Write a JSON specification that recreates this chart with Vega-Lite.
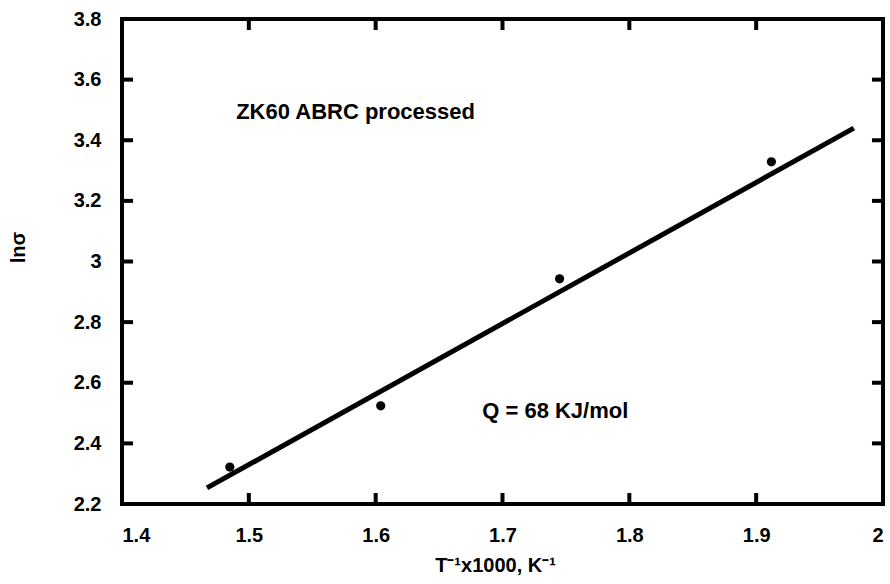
{
  "$schema": "https://vega.github.io/schema/vega-lite/v6.json",
  "width": 761,
  "height": 485,
  "autosize": "none",
  "padding": {"left": 122, "top": 19, "right": 7, "bottom": 80},
  "background": "white",
  "config": {
    "view": {"stroke": "black", "strokeWidth": 4, "fill": null},
    "font": "Liberation Sans"
  },
  "datasets": {
    "pts": [
      {"x": 1.485, "y": 2.322},
      {"x": 1.604, "y": 2.524},
      {"x": 1.745, "y": 2.943},
      {"x": 1.912, "y": 3.329}
    ],
    "fit": [
      {"x": 1.467, "y": 2.253},
      {"x": 1.977, "y": 3.44}
    ],
    "notes": [
      {"x": 1.49, "y": 3.492, "text": "ZK60 ABRC processed"},
      {"x": 1.684, "y": 2.506, "text": "Q = 68 KJ/mol"}
    ],
    "xticks": [{"v": 1.5}, {"v": 1.6}, {"v": 1.7}, {"v": 1.8}, {"v": 1.9}],
    "yticks": [{"v": 2.4}, {"v": 2.6}, {"v": 2.8}, {"v": 3.0}, {"v": 3.2}, {"v": 3.4}, {"v": 3.6}]
  },
  "layer": [
    {
      "data": {"name": "fit"},
      "mark": {"type": "line", "color": "black", "strokeWidth": 5, "strokeCap": "butt"},
      "encoding": {
        "x": {
          "field": "x", "type": "quantitative",
          "scale": {"domain": [1.4, 2.0], "nice": false, "zero": false},
          "axis": {
            "orient": "bottom",
            "grid": false,
            "domain": false,
            "ticks": false,
            "values": [1.4, 1.5, 1.6, 1.7, 1.8, 1.9, 2.0],
            "labelExpr": "format(datum.value, '~g')",
            "labelFont": "Liberation Sans", "labelFontWeight": "bold", "labelFontSize": 20, "labelColor": "black",
            "labelPadding": 21,
            "title": "T⁻¹x1000, K⁻¹",
            "titleFont": "Liberation Sans", "titleFontWeight": "bold", "titleFontSize": 20, "titleColor": "black",
            "titleX": 373,
            "titleY": 61,
            "titleBaseline": "middle"
          }
        },
        "y": {
          "field": "y", "type": "quantitative",
          "scale": {"domain": [2.2, 3.8], "nice": false, "zero": false},
          "axis": {
            "orient": "left",
            "grid": false,
            "domain": false,
            "ticks": false,
            "values": [2.2, 2.4, 2.6, 2.8, 3.0, 3.2, 3.4, 3.6, 3.8],
            "labelExpr": "format(datum.value, '~g')",
            "labelFont": "Liberation Sans", "labelFontWeight": "bold", "labelFontSize": 20, "labelColor": "black",
            "labelPadding": 21,
            "title": "lnσ",
            "titleFont": "Liberation Sans", "titleFontWeight": "bold", "titleFontSize": 20, "titleColor": "black",
            "titleX": -104,
            "titleY": 228,
            "titleAngle": -90,
            "titleBaseline": "middle"
          }
        }
      }
    },
    {
      "data": {"name": "pts"},
      "mark": {"type": "circle", "color": "black", "size": 85, "opacity": 1},
      "encoding": {
        "x": {"field": "x", "type": "quantitative"},
        "y": {"field": "y", "type": "quantitative"}
      }
    },
    {
      "data": {"name": "notes"},
      "mark": {"type": "text", "align": "left", "baseline": "middle", "font": "Liberation Sans", "fontWeight": "bold", "fontSize": 22, "color": "black"},
      "encoding": {
        "x": {"field": "x", "type": "quantitative"},
        "y": {"field": "y", "type": "quantitative"},
        "text": {"field": "text"}
      }
    },
    {
      "data": {"name": "xticks"},
      "mark": {"type": "rule", "color": "black", "strokeWidth": 4, "strokeCap": "butt"},
      "encoding": {
        "x": {"field": "v", "type": "quantitative"},
        "y": {"datum": 2.2},
        "y2": {"datum": 2.2363}
      }
    },
    {
      "data": {"name": "xticks"},
      "mark": {"type": "rule", "color": "black", "strokeWidth": 4, "strokeCap": "butt"},
      "encoding": {
        "x": {"field": "v", "type": "quantitative"},
        "y": {"datum": 3.8},
        "y2": {"datum": 3.7637}
      }
    },
    {
      "data": {"name": "yticks"},
      "mark": {"type": "rule", "color": "black", "strokeWidth": 4, "strokeCap": "butt"},
      "encoding": {
        "y": {"field": "v", "type": "quantitative"},
        "x": {"datum": 1.4},
        "x2": {"datum": 1.4087}
      }
    },
    {
      "data": {"name": "yticks"},
      "mark": {"type": "rule", "color": "black", "strokeWidth": 4, "strokeCap": "butt"},
      "encoding": {
        "y": {"field": "v", "type": "quantitative"},
        "x": {"datum": 2.0},
        "x2": {"datum": 1.9913}
      }
    }
  ]
}
